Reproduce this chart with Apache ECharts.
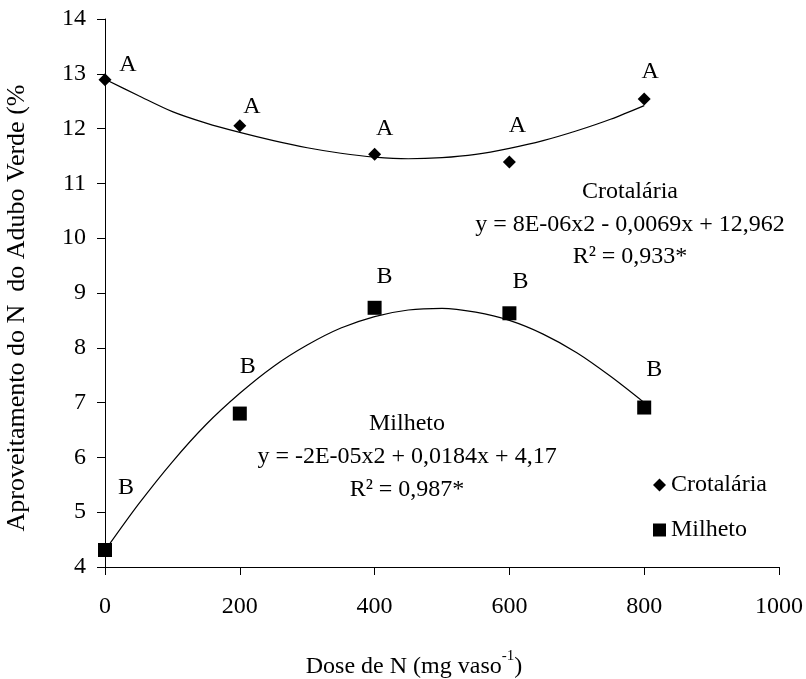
<!DOCTYPE html>
<html>
<head>
<meta charset="utf-8">
<script src="https://cdn.jsdelivr.net/npm/echarts@6/dist/echarts.min.js"></script>
<style>
  html, body { margin: 0; padding: 0; background: #ffffff; }
  #chart { width: 806px; height: 679px; }
</style>
</head>
<body>
<div id="chart"></div>
<script>
// ---- data ----
var doses = [0, 200, 400, 600, 800];
var crotalaria = [12.89, 12.05, 11.53, 11.39, 12.54];
var milheto = [4.31, 6.80, 8.73, 8.63, 6.91];
var crotLetters = ['A', 'A', 'A', 'A', 'A'];
var milLetters = ['B', 'B', 'B', 'B', 'B'];
// fitted trend curves
var trendDoses = [0, 50, 100, 150, 200, 250, 300, 350, 400, 450, 500, 550, 600, 650, 700, 750, 800];
var crotTrend = [12.90, 12.60, 12.31, 12.10, 11.93, 11.78, 11.65, 11.55, 11.48, 11.45, 11.47, 11.53, 11.64, 11.78, 11.96, 12.17, 12.42];
var milTrend = [4.30, 5.15, 5.92, 6.60, 7.17, 7.66, 8.05, 8.36, 8.57, 8.69, 8.72, 8.65, 8.50, 8.25, 7.91, 7.48, 7.00];
var xTicks = [0, 200, 400, 600, 800, 1000];
var yTicks = [4, 5, 6, 7, 8, 9, 10, 11, 12, 13, 14];
var crotText = ['Crotalária', 'y = 8E-06x2 - 0,0069x + 12,962', 'R² = 0,933*'];
var milText = ['Milheto', 'y = -2E-05x2 + 0,0184x + 4,17', 'R² = 0,987*'];
var yTitle = 'Aproveitamento do N  do Adubo Verde (%';
var xTitleMain = 'Dose de N (mg vaso';
var xTitleSup = '-1';

// ---- presentation ----
var FONT = "'Liberation Serif', 'Times New Roman', serif";
var crotOffsets = [[23, -15], [12, -19], [10, -26], [8, -36], [6, -27]];
var milOffsets = [[21, -62], [8, -47], [10, -31], [11, -32], [10, -38]];

function pairs(xs, ys) { return xs.map(function (x, i) { return [x, ys[i]]; }); }
function labelled(xs, ys, letters, offs) {
  return xs.map(function (x, i) {
    return {
      value: [x, ys[i]],
      label: { show: true, formatter: letters[i], position: 'inside', offset: offs[i],
               color: '#000', opacity: 1, fontFamily: FONT, fontSize: 24 }
    };
  });
}
function textEl(txt, x, y) {
  return { type: 'text', x: x, y: y, z: 10,
    style: { text: txt, fill: '#000', font: '24px ' + FONT, align: 'center', verticalAlign: 'middle' } };
}

var chart = echarts.init(document.getElementById('chart'), null, { renderer: 'canvas' });
var option = {
  backgroundColor: '#ffffff',
  animation: false,
  textStyle: { fontFamily: FONT, color: '#000' },
  grid: { left: 105, right: 26, top: 19, bottom: 112, containLabel: false },
  xAxis: {
    type: 'value', min: xTicks[0], max: xTicks[xTicks.length - 1], interval: 200,
    splitLine: { show: false },
    axisLine: { show: true, onZero: false, lineStyle: { color: '#000', width: 1 } },
    axisTick: { show: true, inside: false, length: 8, lineStyle: { color: '#000' } },
    axisLabel: { color: '#000', fontFamily: FONT, fontSize: 24, margin: 28,
                 formatter: function (v) { return String(v); } }
  },
  yAxis: {
    type: 'value', min: yTicks[0], max: yTicks[yTicks.length - 1], interval: 1,
    splitLine: { show: false },
    axisLine: { show: true, onZero: false, lineStyle: { color: '#000', width: 1 } },
    axisTick: { show: true, inside: false, length: 8, lineStyle: { color: '#000' } },
    axisLabel: { color: '#000', fontFamily: FONT, fontSize: 24, margin: 19,
                 formatter: function (v) { return String(v); } }
  },
  legend: {
    data: ['Crotalária', 'Milheto'],
    orient: 'vertical', left: 648, top: 468, itemGap: 21,
    itemWidth: 13, itemHeight: 13,
    textStyle: { color: '#000', fontFamily: FONT, fontSize: 24 }
  },
  series: [
    { name: 'crotTrend', type: 'line', data: pairs(trendDoses, crotTrend), smooth: 0.3,
      showSymbol: false, lineStyle: { color: '#000', width: 1.2 }, silent: true, z: 1 },
    { name: 'milTrend', type: 'line', data: pairs(trendDoses, milTrend), smooth: 0.3,
      showSymbol: false, lineStyle: { color: '#000', width: 1.2 }, silent: true, z: 1 },
    { name: 'Crotalária', type: 'scatter', symbol: 'diamond', symbolSize: 13,
      itemStyle: { color: '#000', opacity: 1 }, data: labelled(doses, crotalaria, crotLetters, crotOffsets), z: 3 },
    { name: 'Milheto', type: 'scatter', symbol: 'rect', symbolSize: 14,
      itemStyle: { color: '#000', opacity: 1 }, data: labelled(doses, milheto, milLetters, milOffsets), z: 3 }
  ],
  graphic: [
    textEl(crotText[0], 630, 192),
    textEl(crotText[1], 630, 225),
    textEl(crotText[2], 630, 257),
    textEl(milText[0], 407, 424),
    textEl(milText[1], 407, 457),
    textEl(milText[2], 407, 490),
    { type: 'text', x: 17, y: 308, rotation: Math.PI / 2, z: 10,
      style: { text: yTitle, fill: '#000', font: '26px ' + FONT, align: 'center', verticalAlign: 'middle' } },
    { type: 'text', x: 414, y: 664, z: 10,
      style: {
        text: '{a|' + xTitleMain + '}{s|' + xTitleSup + '}{a|)}',
        align: 'center', verticalAlign: 'middle',
        rich: {
          a: { fill: '#000', fontFamily: FONT, fontSize: 24, lineHeight: 30, verticalAlign: 'bottom' },
          s: { fill: '#000', fontFamily: FONT, fontSize: 15, lineHeight: 30, verticalAlign: 'top' }
        }
      } }
  ]
};
chart.setOption(option);
</script>
</body>
</html>
